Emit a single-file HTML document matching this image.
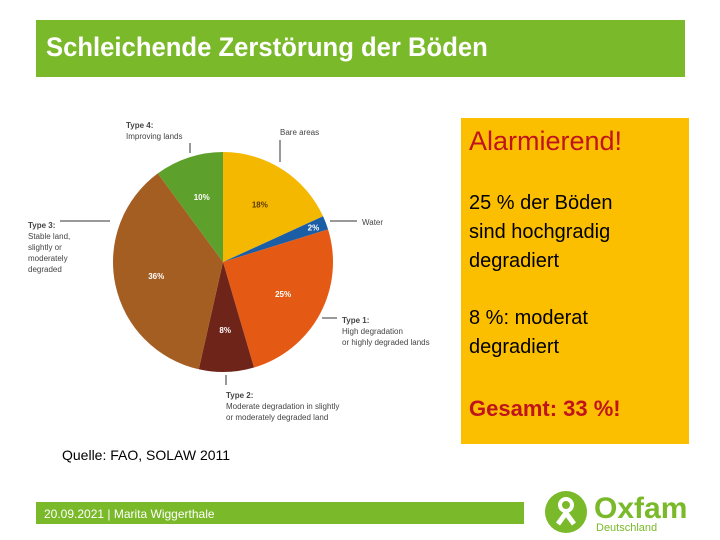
<!DOCTYPE html>
<html><head><meta charset="utf-8"><style>
body{margin:0;width:720px;height:540px;background:#fff;position:relative;overflow:hidden;font-family:"Liberation Sans",sans-serif}
.abs{position:absolute}
</style></head><body>
<div class="abs" style="left:36px;top:20px;width:649px;height:57px;background:#7ab929"></div>
<div class="abs" style="left:46px;top:32px;color:#fff;font-size:27px;font-weight:bold;white-space:nowrap;transform:scaleX(0.95);transform-origin:0 0">Schleichende Zerstörung der Böden</div>
<div class="abs" style="left:461px;top:118px;width:228px;height:326px;background:#fbbf00"></div>
<div class="abs" style="left:469px;top:126px;color:#c0141c;font-size:27px">Alarmierend!</div>
<div class="abs" style="left:469px;top:189px;font-size:20px;line-height:29px;color:#000">25 % der Böden<br>sind hochgradig<br>degradiert</div>
<div class="abs" style="left:469px;top:304px;font-size:20px;line-height:29px;color:#000">8 %: moderat<br>degradiert</div>
<div class="abs" style="left:469px;top:396px;color:#c0141c;font-size:22px;font-weight:bold">Gesamt: 33 %!</div>
<div class="abs" style="left:62px;top:447px;font-size:14px;color:#000">Quelle: FAO, SOLAW 2011</div>
<div class="abs" style="left:36px;top:502px;width:488px;height:22px;background:#7ab929"></div>
<div class="abs" style="left:44px;top:507px;font-size:12px;color:#fff">20.09.2021 | Marita Wiggerthale</div>
<svg class="abs" style="left:0;top:0" width="720" height="540">
<circle cx="566" cy="512" r="21" fill="#7ab929"/>
<circle cx="566" cy="505" r="6" fill="none" stroke="#fff" stroke-width="4"/>
<path d="M558 524 L566 513 L574 524" stroke="#fff" stroke-width="5" fill="none"/>
<text x="594" y="518" font-size="30" font-weight="bold" fill="#7ab929" font-family="Liberation Sans">Oxfam</text>
<text x="596" y="531" font-size="11" fill="#7ab929" font-family="Liberation Sans">Deutschland</text>
</svg>
<svg id="pie" class="abs" style="left:0;top:0" width="460" height="440"></svg>
<script>
const categories=["Bare areas","Water","Type 1","Type 2","Type 3","Type 4"];
const values=[18,2,25,8,36,10];
const labels=["18%","2%","25%","8%","36%","10%"];
const colors=["#f5b800","#1b5ea6","#e45a14","#6e2418","#a55e22","#5ea02c"];
const svg=document.getElementById('pie');
const NS="http://www.w3.org/2000/svg";
const cx=223,cy=262,r=110;
const total=values.reduce((a,b)=>a+b,0);
function pt(a,rr){return [cx+rr*Math.sin(a),cy-rr*Math.cos(a)];}
let a0=0;
values.forEach((v,i)=>{
 const a1=a0+v/total*2*Math.PI;
 const p0=pt(a0,r),p1=pt(a1,r);
 const p=document.createElementNS(NS,'path');
 p.setAttribute('d',`M${cx},${cy}L${p0[0]},${p0[1]}A${r},${r} 0 ${a1-a0>Math.PI?1:0} 1 ${p1[0]},${p1[1]}Z`);
 p.setAttribute('fill',colors[i]);
 
 
 svg.appendChild(p);
 const m=(a0+a1)/2;const lr=v<5?r*0.88:r*0.62;const lp=pt(m,lr);
 const t=document.createElementNS(NS,'text');
 t.setAttribute('x',lp[0]);t.setAttribute('y',lp[1]+3);
 t.setAttribute('text-anchor','middle');t.setAttribute('font-size','8');t.setAttribute('font-weight','bold');
 t.setAttribute('fill',i===0?'#5a3a00':'#fff');t.setAttribute('font-family','Liberation Sans');
 t.textContent=labels[i];
 
 
 svg.appendChild(t);
 a0=a1;
});
const ann=[
 {lines:[[126,128,"Type 4:"],[126,139,"Improving lands"]],l:[190,143,190,153]},
 {lines:[[280,135,"Bare areas"]],l:[280,140,280,162]},
 {lines:[[362,225,"Water"]],l:[330,221,357,221]},
 {lines:[[28,228,"Type 3:"],[28,239,"Stable land,"],[28,250,"slightly or"],[28,261,"moderately"],[28,272,"degraded"]],l:[60,221,110,221]},
 {lines:[[342,323,"Type 1:"],[342,334,"High degradation"],[342,345,"or highly degraded lands"]],l:[322,318,337,318]},
 {lines:[[226,398,"Type 2:"],[226,409,"Moderate degradation in slightly"],[226,420,"or moderately degraded land"]],l:[226,375,226,385]}
];
ann.forEach(a=>{
 const ln=document.createElementNS(NS,'line');
 ln.setAttribute('x1',a.l[0]);ln.setAttribute('y1',a.l[1]);ln.setAttribute('x2',a.l[2]);ln.setAttribute('y2',a.l[3]);
 ln.setAttribute('stroke','#333');ln.setAttribute('stroke-width','1');
 
 
 svg.appendChild(ln);
 a.lines.forEach(([x,y,s])=>{
  const t=document.createElementNS(NS,'text');
  t.setAttribute('x',x);t.setAttribute('y',y);t.setAttribute('font-size','8');t.setAttribute('fill','#444');
  t.setAttribute('font-family','Liberation Sans');
  if(s.startsWith('Type'))t.setAttribute('font-weight','bold');
  t.textContent=s;
  
  
  svg.appendChild(t);
 });
});
</script>
</body></html>
